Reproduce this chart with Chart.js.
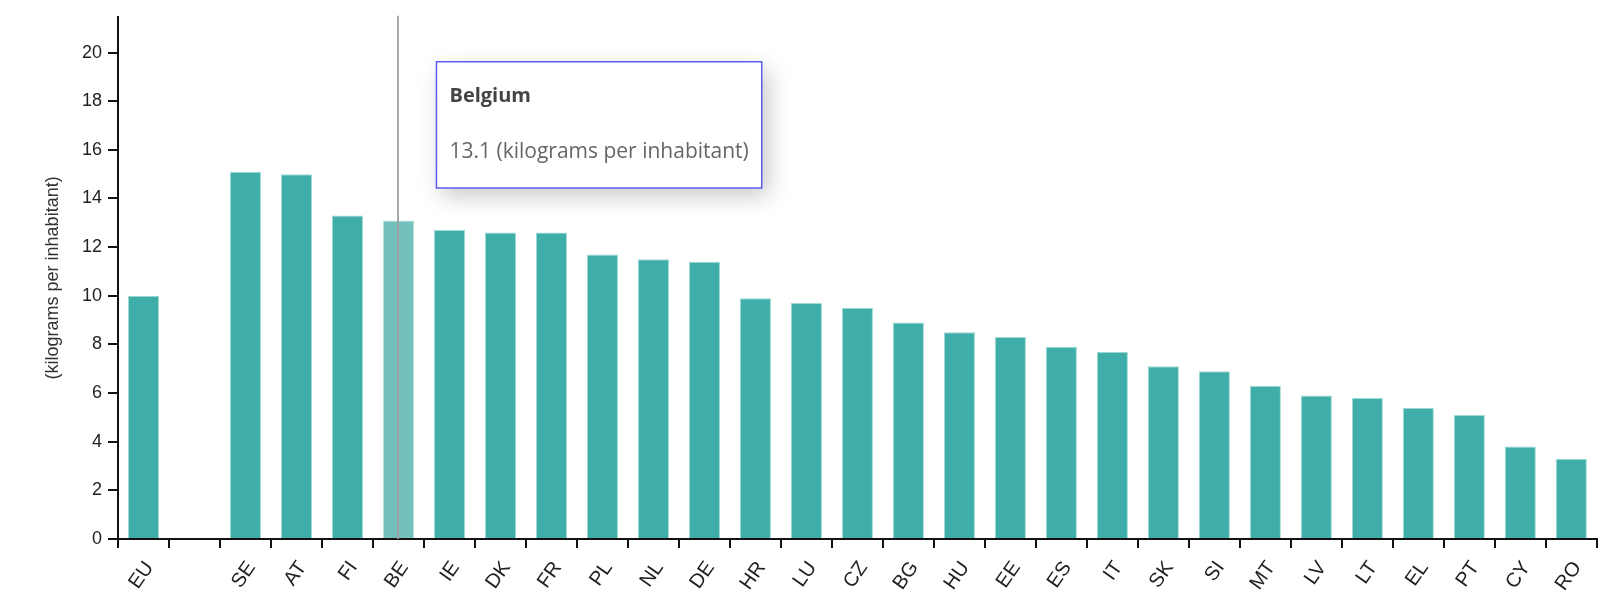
<!DOCTYPE html>
<html>
<head>
<meta charset="utf-8">
<script src="https://cdn.jsdelivr.net/npm/chart.js@4"></script>
<style>
  html, body { margin: 0; padding: 0; background: #fff; }
  #wrap { position: relative; width: 1600px; height: 601px; }
</style>
</head>
<body>
<div id="wrap"><canvas id="c" width="1600" height="601"></canvas></div>
<script>
const categories = ['EU', '', 'SE', 'AT', 'FI', 'BE', 'IE', 'DK', 'FR', 'PL', 'NL', 'DE', 'HR', 'LU', 'CZ', 'BG', 'HU', 'EE', 'ES', 'IT', 'SK', 'SI', 'MT', 'LV', 'LT', 'EL', 'PT', 'CY', 'RO'];
const countryNames = ['European Union', '', 'Sweden', 'Austria', 'Finland', 'Belgium', 'Ireland', 'Denmark', 'France', 'Poland', 'Netherlands', 'Germany', 'Croatia', 'Luxembourg', 'Czechia', 'Bulgaria', 'Hungary', 'Estonia', 'Spain', 'Italy', 'Slovakia', 'Slovenia', 'Malta', 'Latvia', 'Lithuania', 'Greece', 'Portugal', 'Cyprus', 'Romania'];
const values = [10.0, null, 15.1, 15.0, 13.3, 13.1, 12.7, 12.6, 12.6, 11.7, 11.5, 11.4, 9.9, 9.7, 9.5, 8.9, 8.5, 8.3, 7.9, 7.7, 7.1, 6.9, 6.3, 5.9, 5.8, 5.4, 5.1, 3.8, 3.3];
const yTicks = [0, 2, 4, 6, 8, 10, 12, 14, 16, 18, 20];
const yMax = 21.47;
const unitLabel = '(kilograms per inhabitant)';
const highlighted = 'BE';

const hi = categories.indexOf(highlighted);
const baseColor = '#40aea8';
const hoverColor = '#72c1bc';
const axisFont = { family: "'Liberation Sans', Arial, sans-serif", size: 18 };
const xFont = { family: "'Liberation Sans', Arial, sans-serif", size: 20 };

const hoverLine = {
  id: 'hoverLine',
  afterDatasetsDraw(chart) {
    const meta = chart.getDatasetMeta(0);
    const el = meta.data[hi];
    if (!el) return;
    const ctx = chart.ctx;
    ctx.save();
    ctx.strokeStyle = 'rgba(160,160,160,0.9)';
    ctx.lineWidth = 2;
    ctx.beginPath();
    ctx.moveTo(Math.round(el.x), chart.chartArea.top - 1);
    ctx.lineTo(Math.round(el.x), chart.chartArea.bottom);
    ctx.stroke();
    ctx.restore();
  },
  beforeTooltipDraw(chart, args) {
    const tt = args.tooltip;
    if (!tt || tt.opacity === 0) return;
    const ctx = chart.ctx;
    ctx.save();
    ctx.shadowColor = 'rgba(0,0,0,0.22)';
    ctx.shadowBlur = 22;
    ctx.shadowOffsetX = 6;
    ctx.shadowOffsetY = 8;
    ctx.fillStyle = '#fff';
    ctx.fillRect(tt.x, tt.y, tt.width, tt.height);
    ctx.restore();
  }
};

Chart.Tooltip.positioners.fixedRight = function(elements) {
  if (!elements.length) return false;
  const el = elements[0].element;
  return { x: el.x + 38, y: this.chart.chartArea.top + 45 };
};

const chart = new Chart(document.getElementById('c'), {
  type: 'bar',
  data: {
    labels: categories,
    datasets: [{
      data: values,
      backgroundColor: categories.map((c, i) => i === hi ? hoverColor : baseColor),
      borderColor: categories.map((c, i) => i === hi ? 'rgba(170,220,216,0.9)' : 'rgba(150,215,210,0.9)'),
      borderWidth: 1,
      barPercentage: 0.61,
      categoryPercentage: 1.0
    }]
  },
  options: {
    responsive: false,
    animation: false,
    events: [],
    layout: { padding: { top: 16, right: 2, left: 0, bottom: 0 } },
    plugins: {
      legend: { display: false },
      tooltip: {
        enabled: true,
        position: 'fixedRight',
        xAlign: 'left',
        yAlign: 'top',
        caretSize: 0,
        caretPadding: 0,
        cornerRadius: 0,
        displayColors: false,
        backgroundColor: '#ffffff',
        borderColor: '#5c5cf7',
        borderWidth: 1.5,
        titleColor: '#444444',
        bodyColor: '#666666',
        titleFont: { family: "'Open Sans', sans-serif", size: 20, weight: 'bold' },
        bodyFont: { family: "'Open Sans', sans-serif", size: 21, weight: 'normal' },
        padding: { top: 22, bottom: 23, left: 13, right: 13 },
        titleMarginBottom: 32,
        callbacks: {
          title: (items) => countryNames[items[0].dataIndex],
          label: (item) => item.raw.toFixed(1) + ' ' + unitLabel
        }
      }
    },
    scales: {
      x: {
        offset: true,
        grid: {
          offset: true,
          drawOnChartArea: false,
          drawTicks: true,
          tickLength: 9,
          color: '#111',
          lineWidth: 2
        },
        border: { display: true, color: '#111', width: 2 },
        ticks: {
          color: '#222',
          font: xFont,
          autoSkip: false,
          maxRotation: 55,
          minRotation: 55,
          padding: 9,
          labelOffset: 6
        },
        afterFit(scale) { scale.height = 62; }
      },
      y: {
        min: 0,
        max: yMax,
        afterBuildTicks(scale) { scale.ticks = yTicks.map(v => ({ value: v })); },
        grid: {
          drawOnChartArea: false,
          drawTicks: true,
          tickLength: 10,
          color: '#111',
          lineWidth: 2
        },
        border: { display: true, color: '#111', width: 2 },
        ticks: {
          color: '#222',
          font: axisFont,
          padding: 6
        },
        title: {
          display: true,
          text: unitLabel,
          color: '#333',
          font: axisFont,
          padding: { top: 42, bottom: 0 }
        },
        afterFit(scale) { scale.width = 118; }
      }
    }
  },
  plugins: [hoverLine]
});

chart.tooltip.setActiveElements([{ datasetIndex: 0, index: hi }], { x: 0, y: 0 });
chart.update();
</script>
</body>
</html>
